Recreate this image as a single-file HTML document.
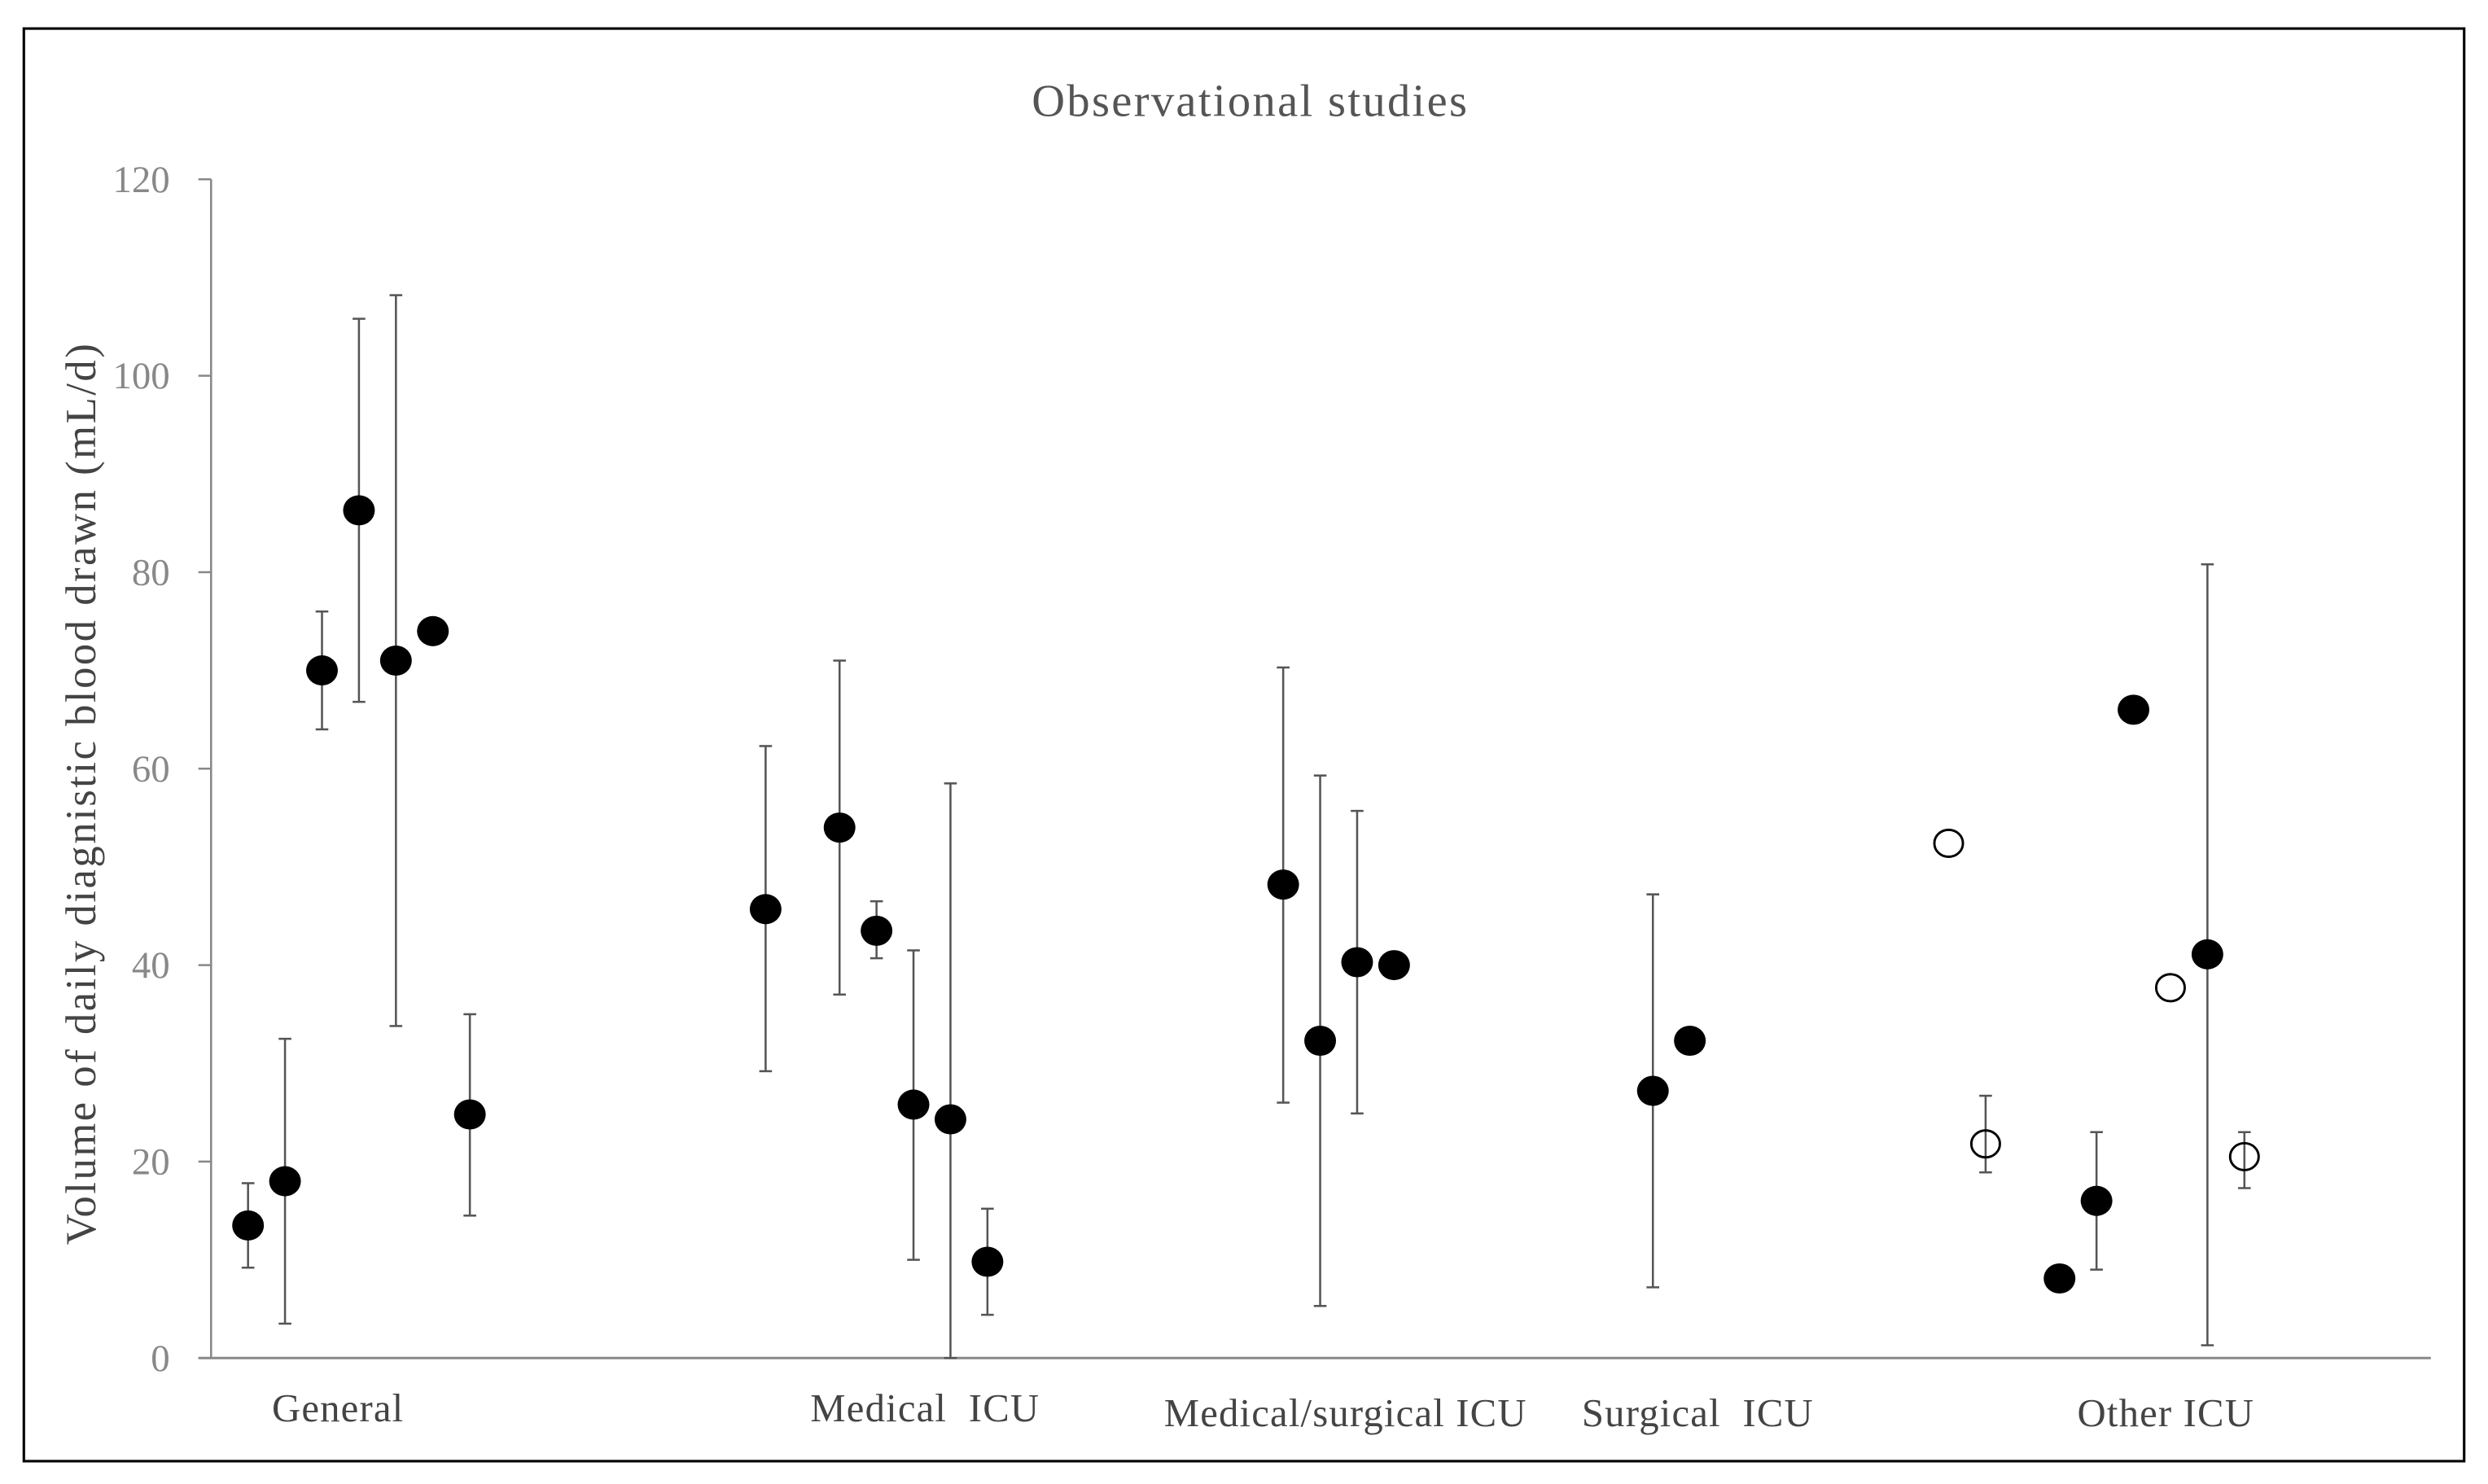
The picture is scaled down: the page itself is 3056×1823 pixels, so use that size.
<!DOCTYPE html>
<html><head><meta charset="utf-8"><style>
html,body{margin:0;padding:0;background:#fff;}
svg{display:block;}
</style></head><body>
<svg id="chart" width="3056" height="1823" viewBox="0 0 1568 935.4" xmlns="http://www.w3.org/2000/svg" font-family="'Liberation Serif', serif">
<rect x="15" y="18" width="1538" height="903" fill="#fff" stroke="#000" stroke-width="1.6"/>
<text x="788" y="73" font-size="29" letter-spacing="1.2" fill="#555" text-anchor="middle">Observational studies</text>
<text transform="translate(60,500) rotate(-90)" font-size="27" letter-spacing="1.3" fill="#444" text-anchor="middle">Volume of daily diagnistic blood drawn (mL/d)</text>
<g id="axes"></g>
<g id="marks"></g>
</svg>
<script>
const yTicks = [0, 20, 40, 60, 80, 100, 120];
const categories = ["General", "Medical  ICU", "Medical/surgical ICU", "Surgical  ICU", "Other ICU"];
const categoryLabelX = [213, 583, 848, 1070, 1365];
const slots =  [1,2,3,4,5,6,7, 15,17,18,19,20,21, 29,30,31,32, 39,40, 47,48,50,51,52,53,54,55];
const values = [13.5,18,70,86.3,71,74,24.8, 45.7,54,43.5,25.8,24.3,9.8, 48.2,32.3,40.3,40, 27.2,32.3, 52.4,21.8,8.1,16,66,37.7,41.1,20.5];
const lows =   [9.2,3.5,64,66.8,33.8,null,14.5, 29.2,37,40.7,10,0,4.4, 26,5.3,24.9,null, 7.2,null, null,18.9,6.8,9,null,null,1.3,17.3];
const highs =  [17.8,32.5,76,105.8,108.2,null,35, 62.3,71,46.5,41.5,58.5,15.2, 70.3,59.3,55.7,null, 47.2,null, null,26.7,8.4,23,null,null,80.8,23];
const openMarker = [0,0,0,0,0,0,0, 0,0,0,0,0,0, 0,0,0,0, 0,0, 1,1,0,0,0,1,0,1];

const NS = "http://www.w3.org/2000/svg";
const y0 = 856, yTop = 113, vMax = 120;
function yScale(v){ return y0 - v * (y0 - yTop) / vMax; }
function xScale(s){ return 133 + s * 23.3; }
function mk(tag, attrs, parent){
  const e = document.createElementNS(NS, tag);
  for (const k in attrs) e.setAttribute(k, attrs[k]);
  parent.appendChild(e); return e;
}
const axes = document.getElementById('axes');
const marks = document.getElementById('marks');

const ya = mk('line', {x1:133, y1:yTop, x2:133, y2:y0, stroke:'#888', 'stroke-width':1.3}, axes);


const xa = mk('line', {x1:125, y1:y0, x2:1532, y2:y0, stroke:'#888', 'stroke-width':1.5}, axes);



yTicks.forEach(t => {
  const y = yScale(t);
  const tk = mk('line', {x1:125, y1:y, x2:133, y2:y, stroke:'#888', 'stroke-width':1.3}, axes);
  
  
  const lb = mk('text', {x:107, y:y+8, 'font-size':24, fill:'#888', 'text-anchor':'end'}, axes);
  lb.textContent = t;
  
  
});

categories.forEach((c, i) => {
  const lb = mk('text', {x:categoryLabelX[i], y: i < 2 ? 896 : 899, 'font-size':25, 'letter-spacing':0.6, fill:'#444', 'text-anchor':'middle'}, axes);
  lb.textContent = c;
  lb.style.whiteSpace = 'pre';
  
  
});

values.forEach((v, i) => {
  const x = xScale(slots[i]);
  if (lows[i] !== null && highs[i] !== null) {
    const g = mk('g', {stroke:'#555', 'stroke-width':1.3}, marks);
    
    
    const yl = yScale(lows[i]), yh = yScale(highs[i]);
    mk('line', {x1:x, y1:yh, x2:x, y2:yl}, g);
    mk('line', {x1:x-4, y1:yh, x2:x+4, y2:yh}, g);
    mk('line', {x1:x-4, y1:yl, x2:x+4, y2:yl}, g);
  }
  const open = openMarker[i] === 1;
  const c = mk('ellipse', {cx:x, cy:yScale(v), rx: open ? 9 : 10, ry: open ? 8.5 : 9.5,
    fill: open ? 'none' : '#000', stroke:'#000', 'stroke-width': open ? 1.5 : 0}, marks);
  
  
});
</script>
</body></html>
